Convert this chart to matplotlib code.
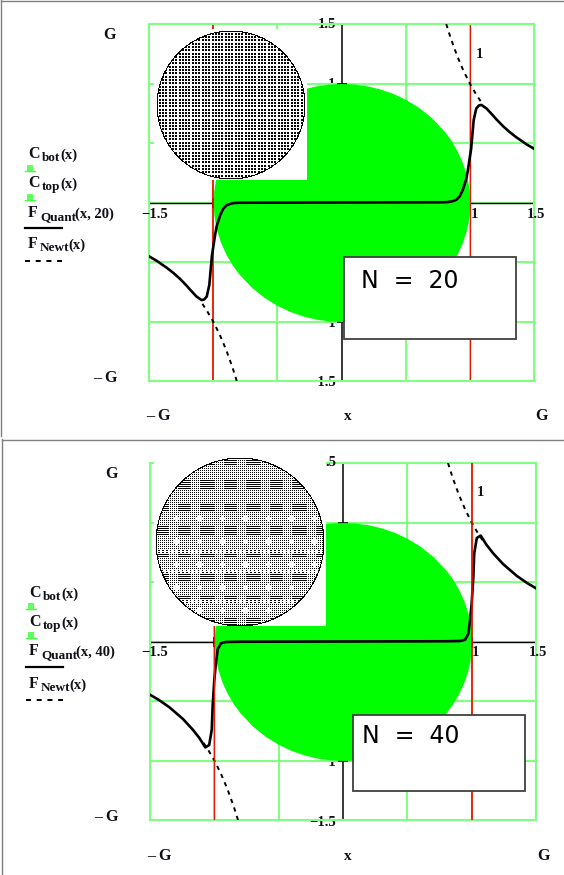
import numpy as np
import matplotlib
matplotlib.use("Agg")
import matplotlib.pyplot as plt
from matplotlib.patches import Rectangle
from matplotlib.lines import Line2D

W, H = 564, 875

# values, right hand side only, the curves are odd
quant20_x = [0.0, 0.4, 0.8, 0.83, 0.86, 0.894, 0.92, 0.945, 0.973, 0.985, 1.01, 1.03, 1.05, 1.07, 1.09, 1.13, 1.18, 1.206, 1.26, 1.31, 1.36, 1.44, 1.5]
quant20_y = [0.0, 0.001, 0.002, 0.004, 0.009, 0.022, 0.05, 0.105, 0.2, 0.273, 0.45, 0.693, 0.79, 0.815, 0.82, 0.79, 0.732, 0.7, 0.64, 0.592, 0.55, 0.49, 0.452]
quant40_x = [0.0, 0.4, 0.8, 0.91, 0.948, 0.974, 0.987, 1.0, 1.013, 1.02, 1.04, 1.07, 1.117, 1.168, 1.245, 1.35, 1.427, 1.5]
quant40_y = [0.0, 0.001, 0.002, 0.004, 0.014, 0.065, 0.176, 0.32, 0.54, 0.74, 0.87, 0.89, 0.81, 0.74, 0.65, 0.552, 0.494, 0.447]
newt_x = [0.816, 0.85, 0.9, 0.95, 1.0, 1.05, 1.09]
newt_y = [1.5, 1.384, 1.235, 1.108, 1.0, 0.907, 0.842]
arc_x = [0.0, 0.1, 0.2, 0.3, 0.4, 0.5, 0.6, 0.7, 0.8, 0.85, 0.9, 0.94, 0.97, 0.985, 0.995, 1.0]
arc_y = [1.0, 0.995, 0.98, 0.954, 0.917, 0.866, 0.8, 0.714, 0.6, 0.527, 0.436, 0.341, 0.243, 0.173, 0.1, 0.0]
ticks = [-1.5, -1, -0.5, 0, 0.5, 1, 1.5]
grid_ticks = [-1, -0.5, 0.5, 1]
grid_y_ticks = [-1, -0.5, 0, 0.5, 1]

GRID = "#80ff80"
GREEN = "#00ff00"
SERIF = "Liberation Serif"


def fx(px):
    return px / W


def fy(py):
    return 1 - py / H


def odd(xs, ys):
    xs, ys = np.array(xs), np.array(ys)
    return np.concatenate([-xs[::-1], xs]), np.concatenate([-ys[::-1], ys])


def label(x, y, s, size=10.5, ha="center", z=8):
    fig.text(fx(x), fy(y + 1), s, family=SERIF, weight="bold", size=size, ha=ha, va="center",
             color="#101018", zorder=z)


def legend(x, ys, name, sub, args):
    off = 14 if name == "C" else 12
    label(x, ys, name, size=11.5, ha="left")
    label(x + off, ys + 4, sub, size=9.5, ha="left")
    sub_w = {"bot": 18, "top": 18, "Quant": 35, "Newt": 28}[sub]
    label(x + off + sub_w, ys + 1, "(" + args + ")", size=10.5, ha="left")


def fig_line(x, y, **kw):
    fig.add_artist(Line2D([fx(v) for v in x], [fy(v) for v in y], **kw))


def lattice_circle(cx, cy, r, dense):
    # overlaid picture of the charge lattice, one image pixel per screen pixel
    n = int(2 * r + 3)
    px, py = np.meshgrid(np.arange(n), np.arange(n))
    c = (n - 1) / 2
    dist = np.hypot(px - c, py - c)
    if dense:
        band_x = np.abs((px + 4) % 23 - 11) < 7
        band_y = np.abs((py + 6) % 23 - 11) < 5
        dots = (px % 2 == 0) & (py % 2 == 0)
        # dark rows broken up by paler columns
        dots |= band_y & band_x & (py % 2 == 0)
        # white spots and thin rows of the moire
        spot = (np.abs((px + 12) % 23 - 11) + np.abs((py + 18) % 23 - 11)) < 4
        dots[spot & (py > 50)] = False
        pale = (np.abs(py - 95) < 2) | (np.abs(py - 115) < 2) | (np.abs(py - 145) < 2)
        dots[pale & (px % 4 > 1)] = False
    else:
        pitch = 3.3
        dots = ((px % pitch) < 2.0) & ((py % pitch) < 2.0)
    img = np.where(dots, 0.0, 1.0)
    img[dist > r] = 1.0
    img[(dist > r - 1.1) & (dist <= r)] = 0.0
    a = np.where(dist <= r, 1.0, 0.0)
    ax = fig.add_axes([fx(cx - n / 2), fy(cy + n / 2), n / W, n / H], zorder=6)
    ax.imshow(img, cmap="gray", vmin=0, vmax=1, alpha=a, interpolation="nearest")
    ax.axis("off")
    ax.patch.set_alpha(0)


def panel(box, q_x, q_y, p):
    x0, y0, x1, y1 = box
    ax = fig.add_axes([fx(x0), fy(y1), (x1 - x0) / W, (y1 - y0) / H], zorder=1)
    ax.patch.set_visible(False)
    ax.set_xlim(-1.5, 1.5)
    ax.set_ylim(-1.5, 1.5)
    ax.set_xticks(grid_ticks)
    ax.set_yticks(grid_y_ticks)
    ax.tick_params(length=0, labelbottom=False, labelleft=False)
    ax.grid(True, color=GRID, lw=1.5)
    ax.set_axisbelow(True)
    for s in ax.spines.values():
        s.set_color(GRID)
        s.set_linewidth(1.5)

    # black axes and tick stubs, they sit under the green
    t = np.array(ticks)
    ax.plot([0, 0], [-1.5, 1.5], color="black", lw=1.1, zorder=1.5)
    ax.plot([-1.5, 1.5], [-0.006, -0.006], color="black", lw=1.0, zorder=1.5)
    ax.plot(0 * t, t, "_", color="black", ms=7, mew=1.1, zorder=1.5)
    ax.plot(t[[0, 1, 5, 6]], 0 * t[[0, 1, 5, 6]], "|", color="black", ms=7, mew=1.1, zorder=1.5)

    ax_x, ax_y = np.array(arc_x), np.array(arc_y)
    xs = np.concatenate([-ax_x[::-1], ax_x])
    ys = np.concatenate([ax_y[::-1], ax_y])
    ax.fill_between(xs, -ys, ys, color=GREEN, lw=0, zorder=2)

    ax.axvline(-1, color=p["left_color"], lw=p["left_lw"], zorder=p["line_z"])
    ax.axvline(1, color=p["right_color"], lw=p["right_lw"], zorder=p["line_z"])

    ax.plot(-np.array(newt_x), -np.array(newt_y), color="black", lw=1.4, ls=(0, (2.2, 2.4)), zorder=3)
    ax.plot(newt_x, newt_y, color="black", lw=1.4, ls=(0, (2.2, 2.4)), zorder=3)
    qx, qy = odd(q_x, q_y)
    ax.plot(qx, qy, color="black", lw=1.9, zorder=3)

    # white backing of the overlaid picture
    rx0, ry0, rx1, ry1 = p["white"]
    fig.add_artist(Rectangle((fx(rx0), fy(ry1)), (rx1 - rx0) / W, (ry1 - ry0) / H, color="white", lw=0,
                             transform=fig.transFigure, zorder=4))
    bx0, by0, bx1, by1 = p["box"]
    fig.add_artist(Rectangle((fx(bx0), fy(by1)), (bx1 - bx0) / W, (by1 - by0) / H, fc="white", ec="#404040",
                             lw=1.3, transform=fig.transFigure, zorder=5))
    fig.text(fx(p["nx"]), fy(p["ny"]), p["ntext"], family="DejaVu Sans", size=17, ha="left", va="center",
             color="black", zorder=7)
    return ax


fig = plt.figure(figsize=(W / 100, H / 100), dpi=100)

panel((149, 24, 534, 381), quant20_x, quant20_y, dict(
    left_color="#ff0000", left_lw=1.2, right_color="#e01808", right_lw=0.9, line_z=2.5,
    white=(154, 29, 307, 180), box=(344, 257, 516, 339), nx=361, ny=281, ntext="N  =  20"))
panel((150, 463, 536, 820), quant40_x, quant40_y, dict(
    left_color="#e02010", left_lw=1.0, right_color="#ff0000", right_lw=1.2, line_z=3.5,
    white=(154, 461, 326, 626), box=(353, 715, 525, 791), nx=362, ny=736, ntext="N  =  40"))

lattice_circle(231.3, 105, 74.5, False)
lattice_circle(239.5, 541.5, 84.5, True)

# gray frames of the two regions
fig_line([0.5, 564], [0.5, 0.5], color="#808080", lw=1)
fig_line([0.5, 0.5], [0, 436], color="#808080", lw=1)
fig_line([1.5, 564], [439.5, 439.5], color="#808080", lw=1)
fig_line([1.5, 1.5], [439, 875], color="#808080", lw=1)

# top panel texts
label(110, 34, "G", size=11.5)
label(105, 377, "\u2013 G", size=11.5)
label(158, 415, "\u2013 G", size=11.5)
label(348, 415, "x", size=11)
label(542, 415, "G", size=11.5)
label(155, 213, "\u22121.5")
label(474, 213, "1")
label(536, 213, "1.5")
label(327, 24, "1.5", z=0.5)
label(331, 83, "1", z=0.5)
label(328, 322, "\u22121", z=0.5)
label(323, 381, "\u22121.5", z=0.5)
label(479, 53, "1")
legend(28, 153, "C", "bot", "x")
legend(28, 182, "C", "top", "x")
legend(28, 212, "F", "Quant", "x, 20")
legend(28, 243, "F", "Newt", "x")

# bottom panel texts
label(111, 473, "G", size=11.5)
label(106, 816, "\u2013 G", size=11.5)
label(159, 855, "\u2013 G", size=11.5)
label(348, 855, "x", size=11)
label(544, 855, "G", size=11.5)
label(155, 652, "\u22121.5")
label(475, 652, "1")
label(538, 652, "1.5")
label(331, 462, ".5", z=8)
label(328, 762, "\u22121", z=0.5)
label(323, 821, "\u22121.5", z=0.5)
label(480, 492, "1")
legend(29, 592, "C", "bot", "x")
legend(29, 621, "C", "top", "x")
legend(29, 650, "F", "Quant", "x, 40")
legend(29, 683, "F", "Newt", "x")

# legend line samples
for y_bot, y_top, y_q, y_n, x0 in [(171, 200, 228, 261, 25), (609, 638, 667, 700, 26)]:
    for y in (y_bot, y_top):
        fig_line([x0, x0 + 10], [y, y], color="#40ff40", lw=1)
        fig.add_artist(Rectangle((fx(x0 + 2), fy(y)), 6 / W, 6 / H, fc="#60ff60", ec="none",
                                 transform=fig.transFigure))
    fig_line([x0, x0 + 37], [y_q, y_q], color="black", lw=1.6)
    fig_line([x0, x0 + 37], [y_n, y_n], color="black", lw=1.4, ls=(0, (2.6, 2.9)))

fig.savefig("out.png", dpi=100)
